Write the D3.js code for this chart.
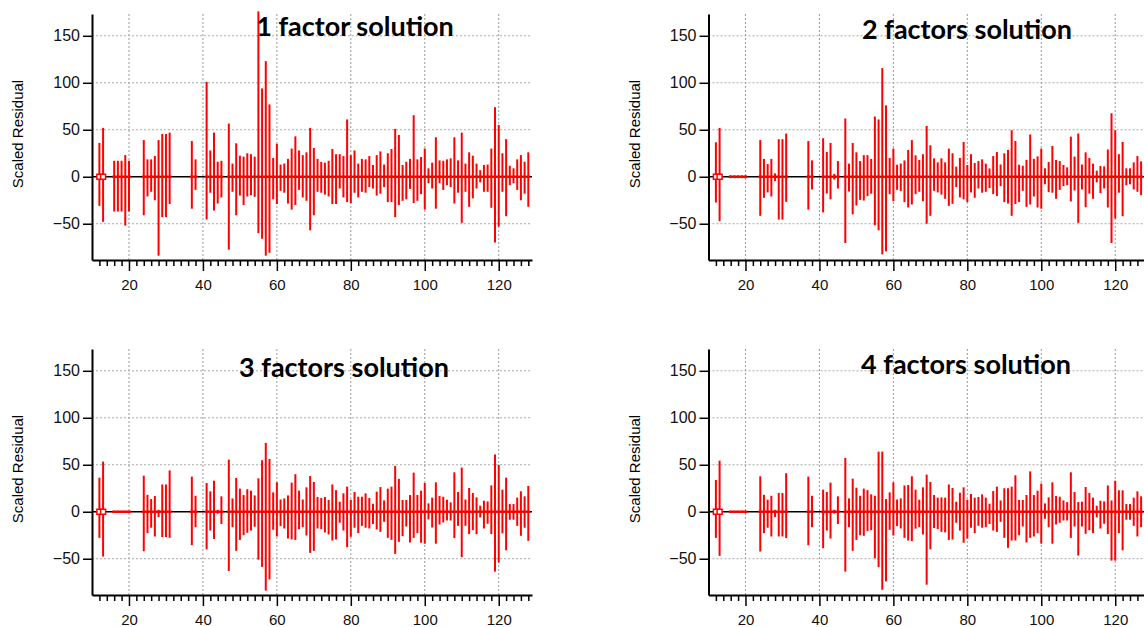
<!DOCTYPE html>
<html>
<head>
<meta charset="utf-8">
<script src="https://cdn.jsdelivr.net/npm/d3@7"></script>
<style>
  body { margin: 0; background: #fff; }
  svg text { font-family: "Liberation Sans", Arial, sans-serif; }
  .title { font-family: Lato, "Open Sans", sans-serif; font-weight: 700; }
</style>
</head>
<body>
<svg id="chart" width="1144" height="627"></svg>
<script>
// m/z values that have a residual (gaps at 14-15, 21-23, 32-36, 39-40, 46)
var mz = [12, 13, 16, 17, 18, 19, 20, 24, 25, 26, 27, 28, 29, 30, 31, 37, 38, 41, 42, 43, 44, 45]
  .concat(d3.range(47, 129));

// scaled residual max / min per m/z, one pair per factor solution
var pos1 = [36, 52, 17, 17, 17, 23, 17, 39, 18.5, 18.5, 22, 39, 45.5, 45.5, 47, 38, 18.5, 101, 28, 47, 16, 17,
  56.6, 14, 35.6, 22.4, 21.4, 25, 24, 21.4, 176, 94, 123, 77, 20, 35, 13, 14, 19, 30, 43, 28, 23, 26, 52, 30.6,
  19, 15.7, 15, 17, 29.5, 24, 24, 22, 61, 23, 28, 14, 19, 18.5, 22, 12.5, 23, 27, 13, 25, 29.5, 51, 44.5, 12.5,
  16, 19, 65.5, 18.5, 21, 30, 9, 15, 42, 17.4, 17, 18.5, 19.6, 42, 17.4, 47, 14, 26, 22.4, 14, 7, 12.5, 13, 30,
  74, 55, 25, 40, 11.7, 9, 18.5, 23, 16, 26];
var neg1 = [-31, -48, -37, -37, -37, -52, -37, -41, -21, -16, -25, -84, -43, -43, -29, -34, -14, -45.5, -17, -36, -28.5, -22,
  -77.6, -16, -41, -20, -30, -21, -19.6, -21.4, -60, -66, -84, -81, -24, -29, -15, -17, -28.5, -35, -30, -14, -22, -25.6, -57, -41,
  -16, -17, -19, -21, -29, -29, -12.5, -22, -27, -28, -17, -22, -16, -17, -11, -12.5, -20, -18, -11, -27, -27, -43, -30, -25.6,
  -24, -13, -28, -25.6, -18.5, -35, -7, -12.5, -34, -7, -14, -9, -11, -28.5, -17, -49, -16, -32, -23, -12.5, -6, -16, -16, -33,
  -70, -53, -16, -42, -9, -7, -14, -25, -18, -32];

var pos2 = [36.7, 52, 1.5, 1.5, 1.5, 1.5, 1.5, 39, 19, 13.5, 19, 3.6, 40, 40, 46, 38, 17.4, 41, 26.3, 36, 3, 16.7,
  62, 14, 36, 26, 16.7, 23, 23, 19, 64, 61, 115.6, 76, 20, 30, 12.8, 14, 17.4, 28.5, 39, 22.8, 17.8, 24, 54, 33.5,
  19.6, 15.3, 19.6, 15.3, 30, 25, 10.7, 20, 37, 12.5, 24, 14.6, 16.7, 18.5, 14, 8.9, 22, 26.3, 13, 25, 28.5, 49.5, 38, 12.8,
  11.7, 18, 45, 19, 21.7, 30, 9, 15.7, 32.7, 17.8, 16.7, 12.5, 10, 42.7, 21.4, 46, 13, 26, 20, 14, 6.4, 11.4, 11, 29,
  67.6, 49.5, 24, 37, 9, 9, 15.3, 22, 16.4, null];
var neg2 = [-27.4, -47.3, -1.5, -1.5, -1.5, -1.5, -1.5, -41.6, -22.4, -16.7, -21, -4.6, -45.6, -45.6, -26.7, -35, -13.5, -38, -17.8, -24, -3, -12.5,
  -70.5, -15.7, -40, -30.6, -24.6, -25.3, -20.6, -18, -51.6, -57, -82.6, -79.4, -18.5, -26, -14, -15.3, -27, -32.7, -29.5, -18.5, -16, -26, -50, -41.6,
  -15, -16.7, -19, -23.5, -31, -28.8, -11, -22, -24, -27, -16.7, -22.4, -12.5, -17, -16, -12, -18.5, -20.6, -10, -27, -28.5, -41.6, -29, -27,
  -15, -32, -29.5, -21, -32.7, -34, -8, -16.4, -17, -23.5, -14, -10, -9, -26.3, -14.6, -49, -13.5, -32.4, -18, -23.5, -6, -17.4, -12.5, -32.7,
  -70.5, -44.5, -17, -42, -9, -8, -13.5, -16, -19.6, null];

var pos3 = [36.3, 53.4, 1, 1, 1, 1, 1, 38.4, 18, 13.5, 16.7, 2, 29, 29, 44, 37.4, 17, 30.6, 21.7, 33, 2, 16.4,
  55.5, 14.2, 36, 24.6, 17.8, 24, 22.4, 17.4, 35.6, 54.8, 73.3, 56.2, 20.6, 31.3, 13, 14.2, 17.4, 31, 40, 22.4, 13, 26, 38, 31.7,
  15.7, 14.6, 15.7, 12.5, 29, 23, 10.7, 19.6, 26.7, 12.8, 21, 16, 16, 19.6, 14.6, 8.5, 21.4, 26.3, 12, 24.6, 26.7, 48.8, 35, 12.5,
  12.5, 17.8, 41.6, 17.8, 22.4, 30.6, 8.9, 15, 31.3, 16.7, 16, 12.8, 10, 42, 21, 47, 13, 25.3, 20, 15.3, 6.4, 11.7, 11, 28,
  61, 50, 23.5, 36.3, 8.2, 8.2, 15, 21.7, 16.4, 27.4];
var neg3 = [-27.8, -47.7, -1, -1, -1, -1, -1, -42, -22.8, -17, -26.3, -5.7, -27, -27, -27.8, -35.6, -16.4, -40, -20, -29, -2, -13,
  -63, -16.4, -41.6, -30, -25, -22.4, -20, -16, -51, -58.7, -84, -72, -19.2, -26.3, -15.3, -17.8, -28.5, -29.5, -30, -18.5, -16.4, -25.3, -43.8, -41.6,
  -17.8, -18.5, -22, -24.2, -30.6, -29.5, -11.7, -20, -37.7, -26.7, -17, -22.8, -15, -17, -17.8, -13, -18.9, -21.4, -10.7, -27.8, -30, -44.8, -32, -26,
  -15.7, -32.7, -27.8, -22.8, -33, -34, -8.2, -16.7, -34, -13.5, -11.4, -9.3, -9.3, -28, -15, -48.4, -15, -23.8, -19.6, -23.8, -6, -17.8, -12.8, -23.8,
  -63.7, -54, -23, -41, -8.5, -8.5, -15, -25.6, -17, -31];

var pos4 = [33.8, 54.4, 1, 1, 1, 1, 1, 37.7, 18, 12.8, 17, 2, 20, 20, 41, 37.4, 17, 23.5, 21, 31, 2, 16.4,
  57.3, 14.2, 35.2, 25.6, 17, 24.6, 23, 18.5, 17, 64, 64, 13.5, 20.6, 31.3, 13, 14.2, 28, 28.5, 37.7, 23.5, 12.8, 26, 39.5, 31.7,
  17.8, 15, 15.3, 15, 29, 25.3, 10.7, 20.3, 26, 12.8, 18.9, 15, 15.7, 18.5, 15, 8.5, 22, 26.7, 12, 25, 25, 26.7, 38.8, 12.5,
  12.5, 17.8, 43, 17.8, 22.4, 30, 8.9, 15.3, 31.3, 16.7, 16, 12, 10.3, 42, 21, 10.3, 10.7, 26.3, 20, 15, 6.4, 11.7, 11, 28,
  12, 33, 22.8, 22.8, 8.2, 8.2, 15, 21.7, 16.4, null];
var neg4 = [-27.8, -47, -1, -1, -1, -1, -1, -42.3, -22.8, -17, -26.3, -5.7, -26.3, -26.3, -28, -35.6, -16.4, -38.8, -20, -28.5, -2, -13,
  -63.7, -16.4, -41.6, -30, -25, -25.6, -20.6, -19.6, -49.5, -59, -83, -74, -19.2, -25.3, -15.3, -17.8, -27.8, -30.6, -31.3, -18, -16.4, -24.2, -77.6, -40,
  -17.4, -18.5, -21.4, -22, -30, -29.5, -11.7, -20, -33, -28.5, -17, -22.8, -15, -17, -16.4, -13, -20, -21.4, -10.7, -27.8, -38.4, -30.6, -30.6, -25,
  -15.7, -32.7, -27.8, -26.3, -22.8, -34, -7.5, -16.4, -34, -13.5, -11.7, -9.3, -9.3, -27.8, -15.7, -46.6, -15.7, -23.5, -19.6, -22.8, -6, -17.8, -12.8, -23.8,
  -52, -52, -22.8, -41, -8.5, -8.5, -15, -26.3, -16.4, null];

var titles = ["1 factor solution", "2 factors solution", "3 factors solution", "4 factors solution"];
var yTicks = [-50, 0, 50, 100, 150];
var yGrid = [-50, 50, 100, 150];
var xTicks = [20, 40, 60, 80, 100, 120];
var xMinor = d3.range(12, 129, 2).filter(function(v) { return v % 20 != 0; });
var squareMz = [12, 13];

var svg = d3.select("#chart");

// panel placement
var panels = [
  { left: 92,    top: 14,  bottom: 260, tx: 355, ty: 36,  pos: pos1, neg: neg1 },
  { left: 708.5, top: 14,  bottom: 260, tx: 967, ty: 39,  pos: pos2, neg: neg2 },
  { left: 92,    top: 349, bottom: 595, tx: 344, ty: 377, pos: pos3, neg: neg3 },
  { left: 708.5, top: 349, bottom: 595, tx: 966, ty: 374, pos: pos4, neg: neg4 }
];

panels.forEach(function(p, i) {
  var g = svg.append("g");
  var x = d3.scaleLinear().domain([10, 129]).range([p.left, p.left + 440]);
  var y = d3.scaleLinear().domain([-88.6, 173.2]).range([p.bottom, p.top]);

  // dotted grid
  g.selectAll(".vg").data(xTicks).join("line")
    .attr("x1", d => x(d)).attr("x2", d => x(d))
    .attr("y1", p.top).attr("y2", p.bottom)
    .attr("stroke", "#999").attr("stroke-width", 1).attr("stroke-dasharray", "2,2");
  g.selectAll(".hg").data(yGrid).join("line")
    .attr("x1", x(10)).attr("x2", x(129))
    .attr("y1", d => y(d)).attr("y2", d => y(d))
    .attr("stroke", "#aaa").attr("stroke-width", 1).attr("stroke-dasharray", "2,2");

  // zero line
  g.append("line")
    .attr("x1", x(10)).attr("x2", x(129))
    .attr("y1", y(0)).attr("y2", y(0))
    .attr("stroke", "#000").attr("stroke-width", 1.5);

  var rows = mz.map(function(m, k) { return { mz: m, hi: p.pos[k], lo: p.neg[k] }; })
    .filter(function(d) { return d.hi != null; });

  // red residual bars
  g.selectAll(".bar").data(rows).join("line")
    .attr("x1", d => x(d.mz)).attr("x2", d => x(d.mz))
    .attr("y1", d => y(d.hi)).attr("y2", d => y(d.lo))
    .attr("stroke", "#ff0000").attr("stroke-width", 2);

  // red band along zero
  g.selectAll(".zr").data(rows).join("line")
    .attr("x1", d => x(d.mz - 0.5)).attr("x2", d => x(d.mz + 0.5))
    .attr("y1", y(0)).attr("y2", y(0))
    .attr("stroke", "#ff0000").attr("stroke-width", 2.5);

  g.selectAll(".sq").data(squareMz).join("rect")
    .attr("x", d => x(d) - 2.5).attr("y", y(0) - 2.5)
    .attr("width", 5).attr("height", 5)
    .attr("fill", "#fff").attr("stroke", "#ff0000").attr("stroke-width", 1.5);

  // axes
  var ya = g.append("g").attr("transform", "translate(" + p.left + ",0)")
    .call(d3.axisLeft(y).tickValues(yTicks).tickSize(9).tickSizeOuter(0).tickPadding(3));
  var xa = g.append("g").attr("transform", "translate(0," + p.bottom + ")")
    .call(d3.axisBottom(x).tickValues(xTicks).tickSize(11).tickSizeOuter(0).tickPadding(8));
  var xm = g.append("g").attr("transform", "translate(0," + p.bottom + ")")
    .call(d3.axisBottom(x).tickValues(xMinor).tickSize(6).tickFormat(""));
  xm.select(".domain").remove();

  [ya, xa, xm].forEach(function(a) {
    a.attr("font-family", null).attr("font-size", null);
    a.select(".domain").attr("stroke", "#000").attr("stroke-width", 2);
    a.selectAll(".tick line").attr("stroke", "#000").attr("stroke-width", 1.5);
    a.selectAll(".tick text").style("font-size", "15px").attr("fill", "#111");
  });
  ya.selectAll(".tick text").style("font-size", "16px");

  g.append("text")
    .attr("transform", "translate(" + (p.left - 74) + "," + ((p.top + p.bottom) / 2 - 3) + ") rotate(-90)")
    .attr("text-anchor", "middle").attr("dy", "0.35em")
    .style("font-size", "15px")
    .text("Scaled Residual");

  g.append("text").attr("class", "title")
    .attr("x", p.tx).attr("y", p.ty)
    .attr("text-anchor", "middle")
    .style("font-size", "27px")
    .text(titles[i]);
});
</script>
</body>
</html>
